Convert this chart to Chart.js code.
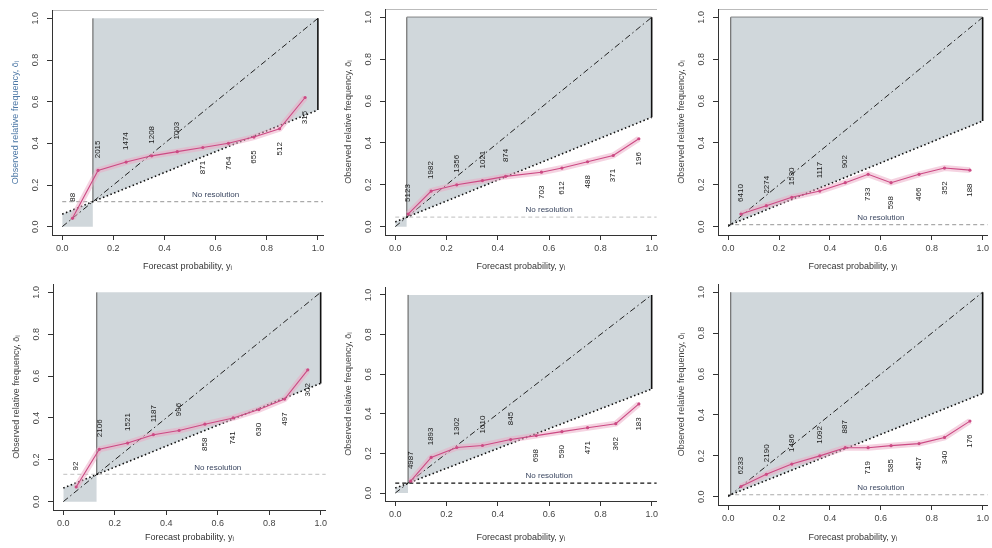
<!DOCTYPE html>
<html>
<head>
<meta charset="utf-8">
<script src="https://cdn.jsdelivr.net/npm/chart.js@4.4.1/dist/chart.umd.min.js"></script>
<style>
  html, body { margin: 0; padding: 0; background: #fff; }
  #wrap { position: relative; width: 992px; height: 548px; overflow: hidden; }
  #wrap canvas { position: absolute; }
</style>
</head>
<body>
<div id="wrap"></div>
<script>
// climatological frequency (no-resolution level) for each panel
const climatology = [0.12, 0.045, 0.01, 0.13, 0.05, 0.01];

// reliability curves: bin forecast probability, observed relative frequency, sample size
const forecastA = [0.04, 0.14, 0.25, 0.35, 0.45, 0.55, 0.65, 0.75, 0.85, 0.95];
const observedA = [0.04, 0.27, 0.31, 0.34, 0.36, 0.38, 0.40, 0.43, 0.47, 0.62];
const countsA = ["88", "2015", "1474", "1208", "1003", "871", "764", "655", "512", "315"];

const forecastB = [0.05, 0.14, 0.24, 0.34, 0.43, 0.57, 0.65, 0.75, 0.85, 0.95];
const observedB = [0.06, 0.17, 0.20, 0.22, 0.24, 0.26, 0.28, 0.31, 0.34, 0.42];
const countsB = ["5123", "1982", "1356", "1021", "874", "703", "612", "488", "371", "196"];

const forecastC = [0.05, 0.15, 0.25, 0.36, 0.46, 0.55, 0.64, 0.75, 0.85, 0.95];
const observedC = [0.06, 0.10, 0.14, 0.17, 0.21, 0.25, 0.21, 0.25, 0.28, 0.27];
const countsC = ["6410", "2274", "1530", "1117", "902", "733", "598", "466", "352", "188"];

const forecastD = [0.05, 0.14, 0.25, 0.35, 0.45, 0.55, 0.66, 0.76, 0.86, 0.95];
const observedD = [0.07, 0.25, 0.28, 0.32, 0.34, 0.37, 0.40, 0.44, 0.49, 0.63];
const countsD = ["92", "2106", "1521", "1187", "996", "858", "741", "630", "497", "302"];

const forecastE = [0.06, 0.14, 0.24, 0.34, 0.45, 0.55, 0.65, 0.75, 0.86, 0.95];
const observedE = [0.06, 0.18, 0.23, 0.24, 0.27, 0.29, 0.31, 0.33, 0.35, 0.45];
const countsE = ["4987", "1893", "1302", "1010", "845", "698", "590", "471", "362", "183"];

const forecastF = [0.05, 0.15, 0.25, 0.36, 0.46, 0.55, 0.64, 0.75, 0.85, 0.95];
const observedF = [0.05, 0.11, 0.16, 0.20, 0.24, 0.24, 0.25, 0.26, 0.29, 0.37];
const countsF = ["6233", "2190", "1486", "1092", "887", "719", "585", "457", "340", "176"];

const tickValues = [0, 0.2, 0.4, 0.6, 0.8, 1.0];
const xTitle = "Forecast probability, y\u1D62";
const yTitle = "Observed relative frequency, \u014D\u1D62";

// page layout: canvas box [x, y, w, h] and plot area [left, top, right, bottom]
const panels = [
  { forecast: forecastA, observed: observedA, counts: countsA, clim: climatology[0],
    box: [0, 0, 330, 272], area: [52, 10, 323, 235], yTitleColor: "#4d78a6", resColor: "#aaa",
    topEdge: "rgba(0,0,0,0)", frame: true },
  { forecast: forecastB, observed: observedB, counts: countsB, clim: climatology[1],
    box: [330, 0, 331, 272], area: [385, 9, 658, 235], yTitleColor: "#444", resColor: "#ccc",
    topEdge: "#222", frame: true },
  { forecast: forecastC, observed: observedC, counts: countsC, clim: climatology[2],
    box: [661, 0, 331, 272], area: [718, 9, 990, 235], yTitleColor: "#444", resColor: "#aaa",
    topEdge: "#222", frame: true },
  { forecast: forecastD, observed: observedD, counts: countsD, clim: climatology[3],
    box: [0, 274, 330, 274], area: [53, 284, 327, 510], yTitleColor: "#444", resColor: "#ccc",
    topEdge: "rgba(0,0,0,0)", frame: false },
  { forecast: forecastE, observed: observedE, counts: countsE, clim: climatology[4],
    box: [330, 274, 331, 274], area: [385, 287, 658, 501], yTitleColor: "#444", resColor: "#111",
    topEdge: "rgba(0,0,0,0)", frame: false },
  { forecast: forecastF, observed: observedF, counts: countsF, clim: climatology[5],
    box: [661, 274, 331, 274], area: [718, 284, 990, 505], yTitleColor: "#444", resColor: "#aaa",
    topEdge: "rgba(0,0,0,0)", frame: false },
];

const FONT = '"Liberation Sans", Arial, sans-serif';
const SKILL = "rgb(208, 215, 219)";

// sample sizes, "No resolution" label and R-style rotated y tick labels
function makeAnnotations(p) {
  return {
    id: "annotations",
    afterDatasetsDraw(chart) {
      const { ctx, chartArea } = chart;
      const x = chart.scales.x, y = chart.scales.y;
      ctx.save();
      ctx.textAlign = "center";
      ctx.textBaseline = "middle";

      ctx.font = "8px " + FONT;
      ctx.fillStyle = "#1a1a1a";
      p.forecast.forEach((f, i) => {
        const px = x.getPixelForValue(f);
        const py = y.getPixelForValue(p.observed[i]) + (i < 5 ? -21 : 20);
        ctx.save();
        ctx.translate(px, py);
        ctx.rotate(-Math.PI / 2);
        ctx.fillText(p.counts[i], 0, 0);
        ctx.restore();
      });

      ctx.font = "8px " + FONT;
      ctx.fillStyle = "#3a4660";
      ctx.fillText("No resolution", x.getPixelForValue(0.6), y.getPixelForValue(p.clim) - 7);

      ctx.font = "9px " + FONT;
      ctx.fillStyle = "#444";
      tickValues.forEach((v) => {
        ctx.save();
        ctx.translate(chartArea.left - 16, y.getPixelForValue(v));
        ctx.rotate(-Math.PI / 2);
        ctx.fillText(v.toFixed(1), 0, 0);
        ctx.restore();
      });
      ctx.restore();
    },
  };
}

function line(data, opts) {
  return Object.assign({ data, pointRadius: 0, borderWidth: 1, fill: false, tension: 0 }, opts);
}

panels.forEach((p) => {
  const [bx, by, bw, bh] = p.box;
  const [al, at, ar, ab] = p.area;
  const c = p.clim;
  const canvas = document.createElement("canvas");
  canvas.width = bw;
  canvas.height = bh;
  canvas.style.left = bx + "px";
  canvas.style.top = by + "px";
  document.getElementById("wrap").appendChild(canvas);

  const curve = p.forecast.map((f, i) => ({ x: f, y: p.observed[i] }));

  new Chart(canvas, {
    type: "line",
    data: {
      datasets: [
        // 0: top edge of skill region
        line([{ x: c, y: 1 }, { x: 1, y: 1 }], { borderColor: p.topEdge, borderWidth: 1.4, order: 20 }),
        // 1: skill region above climatology, filled up to dataset 0
        line([{ x: c, y: c }, { x: 1, y: (1 + c) / 2 }], { borderWidth: 0, fill: 0, backgroundColor: SKILL, order: 19 }),
        // 2: skill region below climatology
        line([{ x: 0, y: c / 2 }, { x: c, y: c }], { borderWidth: 0, fill: "origin", backgroundColor: SKILL, order: 19 }),
        line([{ x: c, y: c }, { x: c, y: 1 }], { borderColor: "#555", order: 15 }),
        line([{ x: 1, y: (1 + c) / 2 }, { x: 1, y: 1 }], { borderColor: "#111", borderWidth: 1.6, order: 15 }),
        line([{ x: 0, y: c }, { x: 1.02, y: c }], { borderColor: p.resColor, borderWidth: 1.2, borderDash: [4, 3], order: 14 }),
        line([{ x: 0, y: 0 }, { x: 1, y: 1 }], { borderColor: "#222", borderDash: [6, 3, 1.5, 3], order: 13 }),
        line([{ x: 0, y: c / 2 }, { x: 1, y: (1 + c) / 2 }], { borderColor: "#111", borderWidth: 1.6, borderDash: [1.5, 2.5], order: 12 }),
        line(curve, { borderColor: "rgba(236, 168, 196, 0.5)", borderWidth: 6, order: 2 }),
        line(curve, {
          borderColor: "#cc4a84", borderWidth: 1.1, pointRadius: 1.6,
          pointBackgroundColor: "#cc4a84", pointBorderWidth: 0, order: 1,
        }),
      ],
    },
    options: {
      responsive: false,
      devicePixelRatio: 1,
      animation: false,
      events: [],
      layout: { padding: { left: 0, right: bx + bw - ar, top: at - by, bottom: 0 } },
      plugins: { legend: { display: false }, tooltip: { enabled: false } },
      scales: {
        x: {
          type: "linear",
          min: -0.04,
          max: 1.02,
          afterBuildTicks: (s) => { s.ticks = tickValues.map((v) => ({ value: v })); },
          afterFit: (s) => { s.height = by + bh - ab; },
          ticks: { font: { family: FONT, size: 9 }, color: "#444", padding: 3, maxRotation: 0,
                   callback: (v) => Number(v).toFixed(1) },
          grid: { display: true, drawOnChartArea: false, drawTicks: true, tickLength: 5, color: "#333" },
          border: { display: true, color: "#333" },
          title: { display: true, text: xTitle, font: { family: FONT, size: 9 }, color: "#333",
                   padding: { top: 0, bottom: by + bh - (by === 0 ? 267 : 538) - 5 } },
        },
        xTop: {
          type: "linear",
          position: "top",
          min: -0.04,
          max: 1.02,
          display: p.frame,
          afterFit: (s) => { s.height = 0; },
          ticks: { display: false },
          grid: { display: false },
          border: { display: true, color: "#bbb" },
        },
        y: {
          type: "linear",
          min: -0.04,
          max: 1.04,
          afterBuildTicks: (s) => { s.ticks = tickValues.map((v) => ({ value: v })); },
          afterFit: (s) => { s.width = al - bx; },
          ticks: { color: "rgba(0,0,0,0)", font: { family: FONT, size: 9 } },
          grid: { display: true, drawOnChartArea: false, drawTicks: true, tickLength: 5, color: "#333" },
          border: { display: true, color: "#333" },
          title: { display: true, text: yTitle, font: { family: FONT, size: 9 }, color: p.yTitleColor,
                   padding: { top: al - bx - 42, bottom: 0 } },
        },
      },
    },
    plugins: [makeAnnotations(p)],
  });
});
</script>
</body>
</html>
